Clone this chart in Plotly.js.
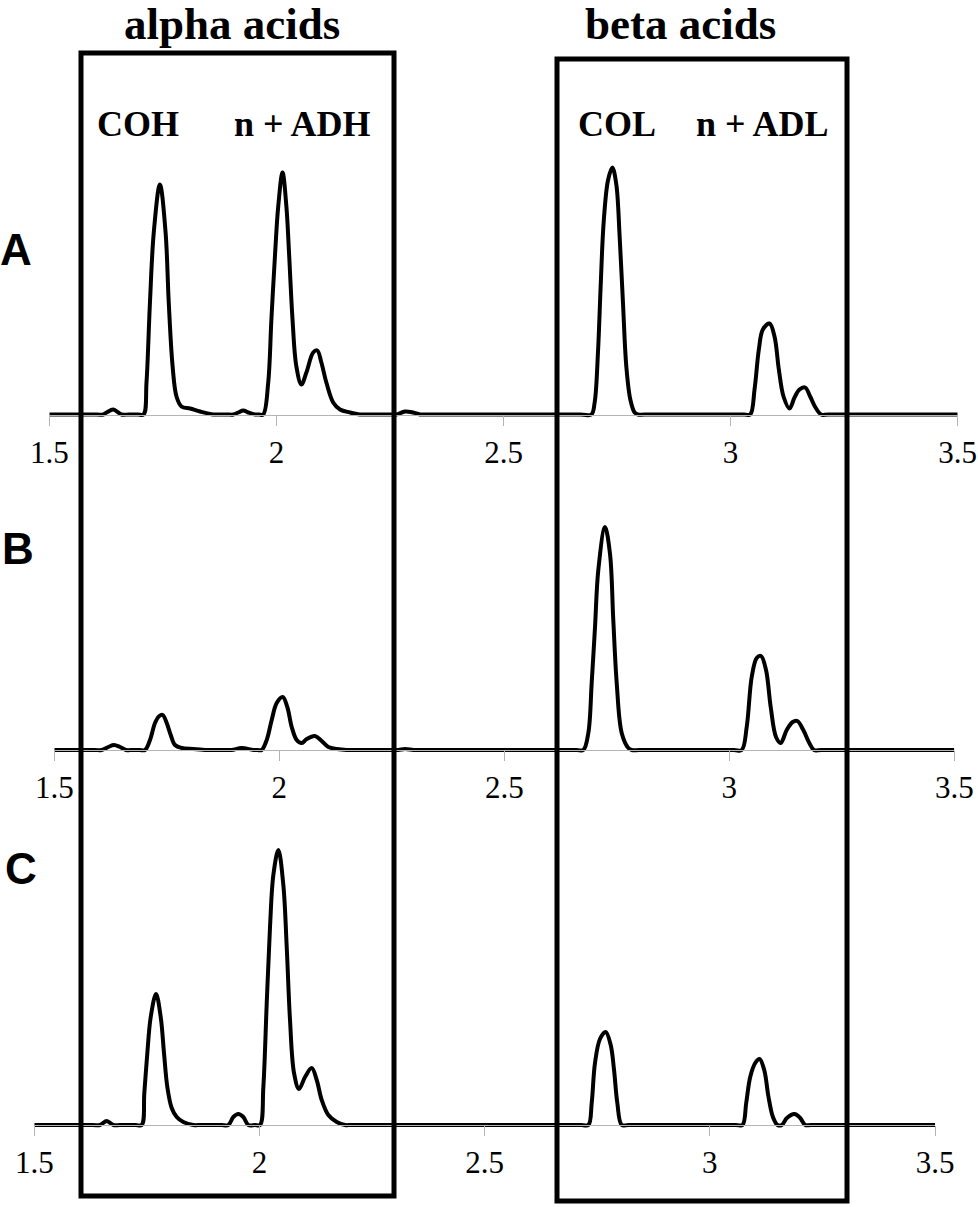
<!DOCTYPE html>
<html>
<head>
<meta charset="utf-8">
<script src="https://cdn.plot.ly/plotly-3.0.1.min.js"></script>
<style>
  html, body { margin: 0; padding: 0; background: #fff; }
  #chart { width: 978px; height: 1207px; }
</style>
</head>
<body>
<div id="chart"></div>
<script>
// retention time (min) and detector signal
const timesA = [1.5, 1.605, 1.619, 1.626, 1.641, 1.652, 1.659, 1.675, 1.695, 1.7075, 1.714, 1.7216, 1.730, 1.7435, 1.756, 1.763, 1.7715, 1.780, 1.791, 1.810, 1.832, 1.861, 1.875, 1.892, 1.905, 1.916, 1.927, 1.938, 1.953, 1.962, 1.971, 1.982, 1.989, 1.997, 2.004, 2.0135, 2.022, 2.028, 2.0355, 2.044, 2.055, 2.066, 2.081, 2.090, 2.099, 2.110, 2.125, 2.140, 2.162, 2.184, 2.20, 2.25, 2.264, 2.283, 2.301, 2.316, 2.33, 2.67, 2.6934, 2.7007, 2.708, 2.7139, 2.7205, 2.730, 2.7396, 2.7484, 2.7557, 2.763, 2.7704, 2.7792, 2.7887, 2.796, 2.81, 3.03, 3.0432, 3.0527, 3.0622, 3.071, 3.0857, 3.0967, 3.1062, 3.1165, 3.1297, 3.1407, 3.1517, 3.1642, 3.1752, 3.1869, 3.1994, 3.215, 3.5];
const signalA = [0, 0, 0, 2, 5, 2, 0, 0, 0, 0, 32, 112, 182, 230, 182, 112, 48, 18, 8, 6, 3, 0, 0, 0, 0, 2, 4, 2, 0, 0, 0, 32, 95, 160, 208, 242, 208, 160, 95, 48, 30, 42, 62, 64, 52, 32, 12, 5, 2, 0, 0, 0, 0, 3, 2, 0, 0, 0, 0, 12, 62, 128, 192, 234, 247, 230, 178, 112, 48, 15, 2, 0, 0, 0, 0, 25, 65, 85, 91, 78, 45, 18, 6, 17, 25, 27, 18, 7, 0, 0, 0];

const timesB = [1.5, 1.59, 1.6053, 1.62, 1.6327, 1.646, 1.6593, 1.675, 1.69, 1.7016, 1.7127, 1.7238, 1.7334, 1.7409, 1.7498, 1.7587, 1.7682, 1.7831, 1.8089, 1.8387, 1.855, 1.88, 1.8942, 1.9164, 1.9422, 1.952, 1.9609, 1.972, 1.9831, 1.9942, 2.0076, 2.0178, 2.0276, 2.0387, 2.0498, 2.0609, 2.0793, 2.0942, 2.1089, 2.1276, 2.1498, 2.165, 2.25, 2.2644, 2.2793, 2.2978, 2.31, 2.66, 2.6756, 2.6867, 2.6942, 2.7016, 2.7089, 2.7238, 2.7349, 2.7422, 2.7498, 2.7609, 2.7756, 2.7831, 2.80, 3.01, 3.0276, 3.0387, 3.0498, 3.0609, 3.0704, 3.0816, 3.092, 3.1038, 3.1142, 3.1276, 3.1409, 3.1511, 3.1644, 3.1778, 3.1882, 3.205, 3.5];
const signalB = [0, 0, 0, 3, 5, 3, 0, 0, 0, 0, 10, 27, 34, 35, 27, 15, 5, 2, 1, 0, 0, 0, 0, 2, 0, 0, 0, 10, 30, 47, 53, 43, 23, 10, 7, 11, 14, 9, 3, 1, 0, 0, 0, 0, 1, 0, 0, 0, 0, 17, 67, 123, 180, 223, 196, 130, 67, 17, 2, 0, 0, 0, 0, 23, 73, 92, 94, 80, 43, 13, 7, 20, 28, 29, 20, 7, 0, 0, 0];

const timesC = [1.5, 1.63, 1.6459, 1.6608, 1.6754, 1.69, 1.725, 1.7385, 1.7443, 1.751, 1.7585, 1.7703, 1.7807, 1.788, 1.7954, 1.8051, 1.8162, 1.8309, 1.8531, 1.87, 1.915, 1.9308, 1.9419, 1.953, 1.9641, 1.9752, 1.99, 2.0012, 2.0086, 2.0161, 2.0234, 2.0308, 2.0419, 2.053, 2.0605, 2.0678, 2.0767, 2.0878, 2.1012, 2.116, 2.1271, 2.1382, 2.1529, 2.1716, 2.19, 2.205, 2.715, 2.7303, 2.7377, 2.745, 2.7561, 2.7688, 2.7799, 2.7873, 2.7946, 2.8044, 2.82, 3.058, 3.0726, 3.0808, 3.0897, 3.1008, 3.1104, 3.1208, 3.1303, 3.1401, 3.1503, 3.16, 3.1711, 3.188, 3.2006, 3.2117, 3.225, 3.5];
const signalC = [0, 0, 0, 4, 0, 0, 0, 0, 32, 72, 108, 131, 108, 72, 38, 17, 8, 3, 0, 0, 0, 0, 8, 11, 8, 0, 0, 0, 38, 122, 198, 250, 275, 240, 178, 105, 52, 36, 48, 57, 45, 25, 10, 3, 0, 0, 0, 0, 22, 62, 86, 93, 80, 55, 22, 0, 0, 0, 0, 22, 48, 62, 66, 55, 28, 8, 0, 0, 7, 11, 7, 0, 0, 0];

const tickValues = [1.5, 2, 2.5, 3, 3.5];
const tickLabels = ['1.5', '2', '2.5', '3', '3.5'];
const panelNames = ['A', 'B', 'C'];
const groupTitles = ['alpha acids', 'beta acids'];
const peakNames = ['COH', 'n + ADH', 'COL', 'n + ADL'];

const W = 978, H = 1207;
const fx = px => px / W;
const fy = px => 1 - px / H;
const SERIF = '"Liberation Serif", "Times New Roman", serif';
const SANS = '"Liberation Sans", Arial, sans-serif';

// pixel geometry of each panel: left/right of the 1.5..3.5 axis and the baseline
const panels = [
  {left: 49.3, right: 957.7, base: 414.5, label: [16, 250]},
  {left: 54.3, right: 954.3, base: 750, label: [18, 548]},
  {left: 34.3, right: 935, base: 1125, label: [21, 868]},
];
const series = [[timesA, signalA], [timesB, signalB], [timesC, signalC]];

let data = [];
let layout = {
  width: W, height: H,
  margin: {l: 0, r: 0, t: 0, b: 0},
  paper_bgcolor: 'white',
  plot_bgcolor: 'rgba(0,0,0,0)',
  showlegend: false,
  annotations: [],
  shapes: [],
};

panels.forEach((p, i) => {
  let n = i === 0 ? '' : String(i + 1);
  data.push({
    x: series[i][0],
    y: series[i][1],
    xaxis: 'x' + n,
    yaxis: 'y' + n,
    mode: 'lines',
    line: {color: 'black', width: 4, shape: 'spline', smoothing: 1},
    hoverinfo: 'skip',
  });
  layout['xaxis' + n] = {
    domain: [fx(p.left), fx(p.right)],
    range: [1.5, 3.5],
    anchor: 'free',
    position: fy(p.base),
    showline: true,
    linecolor: '#b4b4b4',
    linewidth: 1,
    ticks: 'outside',
    ticklen: 10,
    tickwidth: 1,
    tickcolor: '#b4b4b4',
    tickvals: tickValues,
    ticktext: tickLabels,
    ticklabelstandoff: 0,
    tickfont: {family: SERIF, size: 31, color: 'black'},
    showgrid: false,
    zeroline: false,
    fixedrange: true,
  };
  layout['yaxis' + n] = {
    domain: [fy(p.base + 10), fy(p.base - 300)],
    range: [-10, 300],
    anchor: 'x' + n,
    visible: false,
    fixedrange: true,
  };
  layout.annotations.push({
    text: panelNames[i], xref: 'paper', yref: 'paper',
    x: fx(p.label[0]), y: fy(p.label[1]), xanchor: 'center', yanchor: 'middle',
    showarrow: false,
    font: {family: SANS, size: 44, color: 'black', weight: 'bold'},
  });
});

// boxes around the two groups of compounds
const boxes = [[81, 394, 53, 1196], [557, 847, 59, 1201]];
boxes.forEach(b => {
  layout.shapes.push({
    type: 'rect', xref: 'paper', yref: 'paper',
    x0: fx(b[0]), x1: fx(b[1]), y0: fy(b[3]), y1: fy(b[2]),
    line: {color: 'black', width: 5},
  });
});

const titleX = [232, 680];
groupTitles.forEach((t, i) => {
  layout.annotations.push({
    text: '<b>' + t + '</b>', xref: 'paper', yref: 'paper',
    x: fx(titleX[i]), y: fy(24), xanchor: 'center', yanchor: 'middle',
    showarrow: false,
    font: {family: SERIF, size: 45, color: 'black'},
  });
});

const peakX = [138, 302, 617, 762];
peakNames.forEach((t, i) => {
  layout.annotations.push({
    text: '<b>' + t + '</b>', xref: 'paper', yref: 'paper',
    x: fx(peakX[i]), y: fy(124), xanchor: 'center', yanchor: 'middle',
    showarrow: false,
    font: {family: SERIF, size: 36, color: 'black'},
  });
});

Plotly.newPlot('chart', data, layout, {displayModeBar: false, staticPlot: true});
</script>
</body>
</html>
